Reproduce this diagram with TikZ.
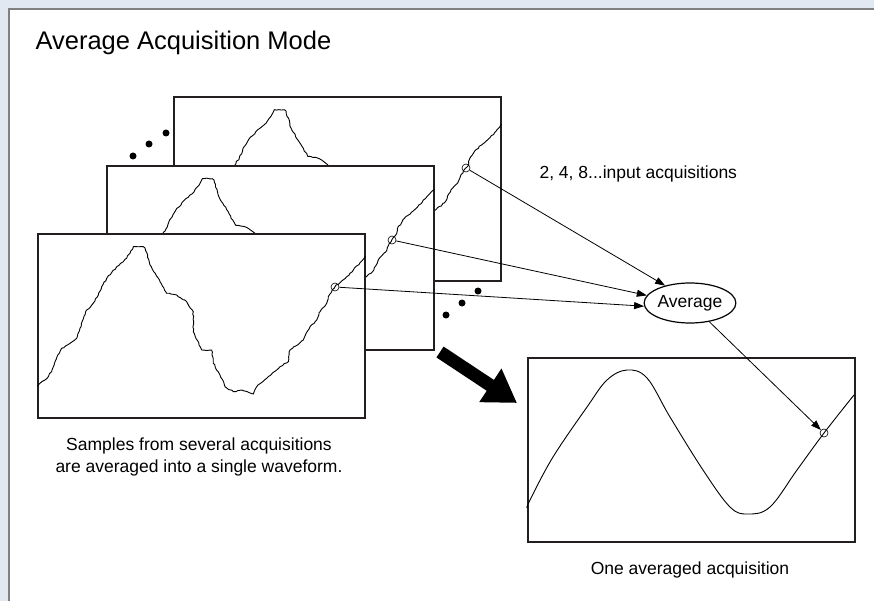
\documentclass[tikz,border=0pt]{standalone}
\usepackage{fontspec}
\setmainfont{Liberation Sans}
\usetikzlibrary{shapes.geometric,arrows.meta,decorations.pathmorphing}
\definecolor{bgblue}{HTML}{E1E8F1}
\definecolor{panelgrey}{HTML}{808080}
\definecolor{inkline}{HTML}{231F20}

% one noisy acquisition, frame-local coordinates
\def\roughwave{(0,153) -- (1.3,152) -- (8,147) -- (14.7,138.7) -- (18,128.7) -- (24.7,115.3)
  -- (33,110.3) -- (39.7,105.3) -- (43,95.3) -- (49.7,77) -- (54.7,72) -- (61.3,62)
  -- (64.7,53.7) -- (69.7,45.3) -- (79.7,33.7) -- (86.3,28.7) -- (93,20.3) -- (96.3,13.7)
  -- (106.3,13.7) -- (108,15) -- (113,32) -- (123,48.7) -- (129.7,60.3) -- (139.7,62)
  -- (149.7,68.7) -- (156.3,78.7) -- (156.3,98.7) -- (164.7,117) -- (174.7,117)
  -- (176.3,130.3) -- (183,142) -- (188,153.7) -- (196.3,158.7) -- (204.7,157)
  -- (216.3,161) -- (219.7,153.7) -- (229.7,145.3) -- (243,133.7) -- (251.3,128.7)
  -- (253,117) -- (266.3,107) -- (273,93.7) -- (279.7,87) -- (283,78.7) -- (289.7,70.3)
  -- (291.3,63.7) -- (298,53.7) -- (309.7,43.7) -- (316.3,37) -- (327,25.3) -- (335,18)}

\begin{document}
\begin{tikzpicture}[x=1pt, y=-1pt,
  frame/.style={draw=inkline, line width=1.6pt, fill=white, anchor=north west,
    inner sep=0pt, minimum width=327pt, minimum height=184pt},
  wave/.style={line width=0.9pt, decorate,
    decoration={random steps, segment length=2.5pt, amplitude=0.6pt}},
  sample/.style={draw, circle, line width=0.6pt, minimum size=8pt, inner sep=0pt},
  arrow/.style={-{Triangle[length=10pt,width=7pt]}, line width=0.8pt},
  bigarrow/.style={line width=13pt, -{Triangle[length=32pt,width=38pt]}},
  txt/.style={font=\fontsize{17.5}{22}\selectfont}
]
\pgfmathsetseed{7}
\useasboundingbox (0,0) rectangle (874,601);
\fill[bgblue] (0,0) rectangle (874,601);
\fill[white] (9,9) rectangle (874,601);
\draw[panelgrey, line width=2pt] (874,9) -- (9,9) -- (9,601);

\node[anchor=base west, font=\fontsize{25.5}{30}\selectfont] (title) at (32,50) {Average Acquisition Mode};

% stack of acquisitions, back to front
\foreach \f/\x/\y/\dx in {acq3/173/96/5, acq2/106/165/0, acq1/37/233/0} {
  \node[frame] (\f) at (\x,\y) {};
  \begin{scope}
    \clip (\f.north west) rectangle (\f.south east);
    \draw[wave, shift={(\x+\dx,\y)}] \roughwave;
  \end{scope}
}
\node[sample] (s3) at (466,168) {};
\node[sample] (s2) at (392,240) {};
\node[sample] (s1) at (335,287) {};

\foreach \px/\py in {133/156, 149/144, 166/133, 446/315, 462/303, 478/291}
  \fill (\px,\py) circle (3.5pt);

\node[txt, anchor=base west] (inputs) at (536,179) {2, 4, 8...input acquisitions};
\node[txt, draw, ellipse, line width=1.2pt, inner sep=0pt,
  minimum width=84pt, minimum height=40pt] (avg) at (690,303) {Average};

% averaged result
\node[frame] (final) at (527,357) {};
\begin{scope}[shift={(527,357)}]
  \draw[line width=0.9pt] plot[smooth, tension=0.6] coordinates {(0,151) (3,143) (26,100)
    (60,50) (80,23) (100,13) (120,21) (143,60) (176,113) (203,150) (221,157) (243,150)
    (270,113) (297,76) (327,38)};
\end{scope}
\node[sample] (sf) at (824,433) {};

\draw[arrow] (s3) -- (avg.145);
\draw[arrow] (s2) -- (avg.170);
\draw[arrow] (s1) -- (avg.184);
\draw[arrow] (avg) -- (sf);

\coordinate (bigtail) at (440,352);
\coordinate (bighead) at (517,403);
\draw[bigarrow] (bigtail) -- (bighead);

\node[txt, align=center] (stackcap) at (199,457) {Samples from several acquisitions\\are averaged into a single waveform.};
\node[txt] (finalcap) at (690,570) {One averaged acquisition};
\end{tikzpicture}
\end{document}
